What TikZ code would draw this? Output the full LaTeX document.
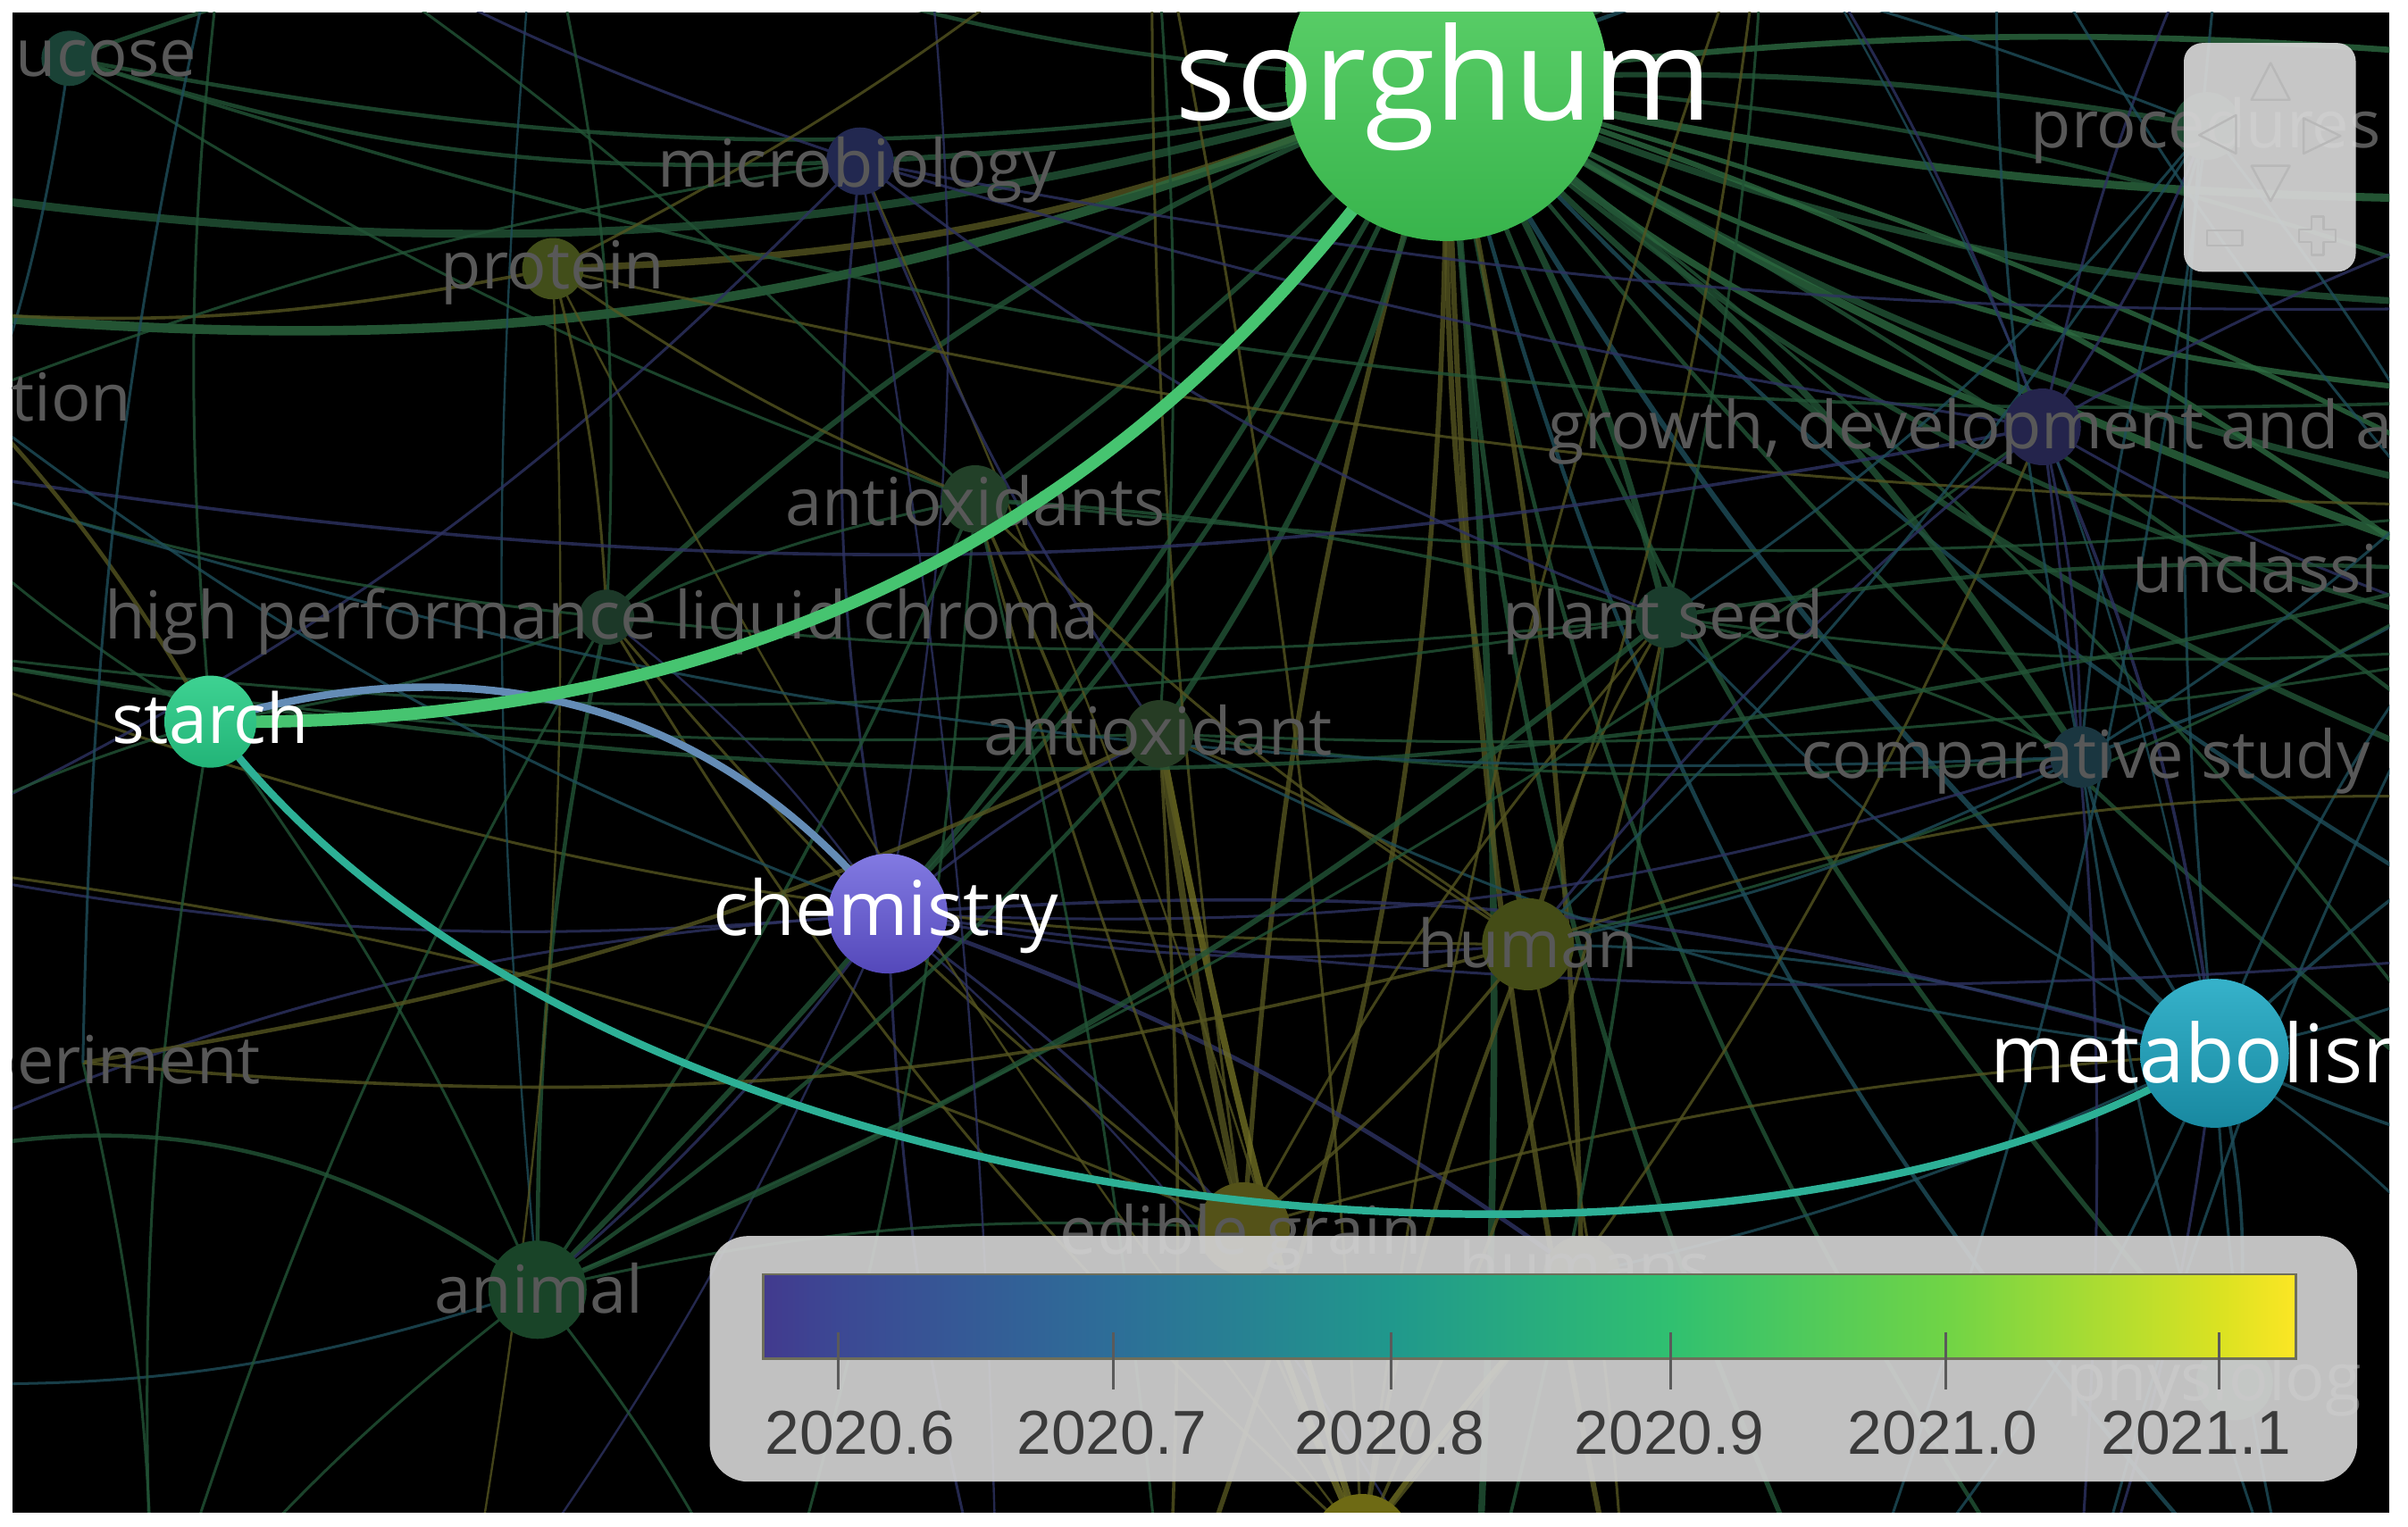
\documentclass[tikz,border=0pt]{standalone}
\usepackage{fontspec}
\setmainfont{Open Sans}
\newfontfamily\legfont{Liberation Sans}
\definecolor{cG1}{RGB}{34,84,54}
\definecolor{cG2}{RGB}{44,106,64}
\definecolor{cT}{RGB}{30,78,90}
\definecolor{cB}{RGB}{46,50,98}
\definecolor{cY}{RGB}{84,84,32}
\definecolor{cY2}{RGB}{112,110,36}
\definecolor{fGL}{RGB}{26,66,54}
\definecolor{fMI}{RGB}{34,40,80}
\definecolor{fPR}{RGB}{66,78,26}
\definecolor{fAS}{RGB}{34,64,40}
\definecolor{fHP}{RGB}{28,56,40}
\definecolor{fAT}{RGB}{38,60,36}
\definecolor{fPS}{RGB}{26,60,44}
\definecolor{fGR}{RGB}{36,36,76}
\definecolor{fCS}{RGB}{26,54,64}
\definecolor{fHU}{RGB}{68,76,22}
\definecolor{fAN}{RGB}{25,68,40}
\definecolor{fEG}{RGB}{84,82,24}
\definecolor{fHS}{RGB}{64,64,28}
\definecolor{fFO}{RGB}{110,106,20}
\definecolor{fPH}{RGB}{36,76,54}
\definecolor{fPC}{RGB}{32,72,50}
\definecolor{flab}{RGB}{88,88,88}
\definecolor{hSS}{RGB}{70,196,112}
\definecolor{hSC}{RGB}{100,140,182}
\definecolor{hSM}{RGB}{45,176,150}
\definecolor{navF}{RGB}{214,214,214}
\definecolor{navI}{RGB}{184,184,184}
\definecolor{legF}{RGB}{210,210,210}
\definecolor{legT}{RGB}{58,58,58}
\definecolor{tickC}{RGB}{90,90,90}
\definecolor{barB}{RGB}{110,110,90}
\definecolor{v0}{RGB}{66,58,142}
\definecolor{v1}{RGB}{60,72,148}
\definecolor{v2}{RGB}{45,110,152}
\definecolor{v3}{RGB}{32,152,140}
\definecolor{v4}{RGB}{48,192,112}
\definecolor{v5}{RGB}{112,212,70}
\definecolor{v6}{RGB}{218,226,34}
\definecolor{v7}{RGB}{252,230,36}
\begin{document}
\begin{tikzpicture}[x=0.02cm,y=-0.02cm,
  edge/.style={opacity=0.8},
  eG/.style={edge,draw=cG1},
  eH/.style={edge,draw=cG2},
  eT/.style={edge,draw=cT},
  eB/.style={edge,draw=cB},
  eY/.style={edge,draw=cY},
  eZ/.style={edge,draw=cY2},
  fnode/.style={circle,inner sep=0,draw=none},
  flbl/.style={text=flab,inner sep=0,font=\fontsize{24.5}{26}\selectfont},
  hlbl/.style={text=white,inner sep=0,anchor=base},
  hedge/.style={line cap=round},
  legtxt/.style={text=legT,inner sep=0,anchor=base,font=\legfont\fontsize{23}{25}\selectfont},
  navicon/.style={draw=navI,line width=0.8pt,line join=round}]
\useasboundingbox (0,0) rectangle (1568,994);
\fill[white] (0,0) rectangle (1568,994);
\fill[black] (8,8) rectangle (1556,985);
\begin{scope}
\clip (8,8) rectangle (1556,985);
% ---------- positions ----------
\foreach \n/\x/\y in {S/942/52,ST/137/470,CH/578/595,ME/1442/686,GL/45/38,MI/560/105,
  PR/360/175,AS/635/325,HP/395/402,AT/755/478,PS/1085/402,GR/1330/278,CS/1355/493,
  HU/995/615,AN/350/840,EG/810/800,HS/1030/830,FO/887/1005,PH/1455/900,PC/1437/82,
  UN/1620/372,EX/54/692,TI/-25/260,
  R1/1650/40,R2/1650/130,R3/1650/200,R4/1650/260,R5/1650/330,R6/1650/420,R7/1650/520,
  R8/1650/620,R9/1650/760,R10/1650/880,
  B1/100/1080,B2/300/1080,B3/500/1080,B4/650/1080,B5/760/1080,B6/960/1080,B7/1060/1080,
  B8/1200/1080,B9/1350/1080,B10/1500/1080,
  L1/-80/120,L2/-80/200,L3/-80/300,L4/-80/420,L5/-80/560,L6/-80/760,L7/-80/900,
  T1/150/-80,T2/350/-80,T3/600/-80,T4/750/-80,T5/1150/-80,T6/1300/-80,T7/1450/-80}
  {\coordinate (\n) at (\x,\y);}
% ---------- faint background links ----------
\foreach \ea/\eb/\ebd/\elw/\est in {
  S/R1/6/2.2pt/eH, S/R2/-6/3pt/eH, S/R3/-10/2.5pt/eG, S/R4/-12/2pt/eH, S/R5/-10/2.5pt/eG,
  S/R6/-14/1.8pt/eG, S/R7/-12/2.2pt/eG, S/R8/-8/1.5pt/eT, S/R9/8/1.2pt/eG, S/GR/-10/2.5pt/eH,
  S/CS/10/2.5pt/eG, S/ME/-8/2pt/eT, S/UN/-6/3pt/eH, S/PC/6/2pt/eG, S/PS/8/2.5pt/eG,
  S/HU/-6/2pt/eY, S/B6/4/2.5pt/eG, S/B7/-5/2pt/eY, S/B8/-10/1.8pt/eG, S/B9/-12/1.5pt/eG,
  S/B5/10/1.8pt/eY, S/EG/-6/1.8pt/eY, S/AT/10/2.2pt/eG, S/AS/5/1.8pt/eG, S/HP/-10/2pt/eG,
  S/PR/10/2.5pt/eY, S/MI/5/2pt/eG, S/L1/12/3pt/eG, S/L2/14/3.5pt/eH, S/GL/10/1.5pt/eG,
  S/CH/10/1.8pt/eG, S/AN/8/2pt/eG, S/T2/10/1.5pt/eG, S/T3/-5/1.5pt/eG, S/T6/5/1.5pt/eG,
  S/HS/5/1.8pt/eY, S/PH/-10/1.8pt/eG, S/T7/8/1.5pt/eT, S/B10/-14/1.5pt/eT,
  S/R3/8/1.5pt/eG, S/R5/6/1.8pt/eH, S/R7/4/1.5pt/eG, S/R6/10/2pt/eH, S/R9/-6/1.5pt/eG,
  ME/R7/5/1.2pt/eT, ME/R9/-5/1.2pt/eT, ME/R10/8/1pt/eT, ME/B10/-5/1pt/eT, ME/B9/6/1pt/eB,
  ME/B8/8/1pt/eT, ME/CS/10/1.2pt/eT, ME/HU/-8/1pt/eT, ME/CH/-10/1.2pt/eB, ME/PS/8/1pt/eT,
  ME/T7/6/1pt/eT, ME/GR/-8/1.2pt/eB, ME/AT/10/1pt/eT, ME/EG/-6/1pt/eY, ME/HS/6/1pt/eT,
  ME/PH/10/1.2pt/eT, ME/R8/-6/1pt/eT, ME/T5/-10/0.8pt/eT, ME/UN/8/1pt/eT,
  CH/L5/8/1pt/eB, CH/L6/-10/1pt/eB, CH/B2/6/0.8pt/eB, CH/B4/-6/1pt/eB, CH/B6/10/0.8pt/eB,
  CH/HU/-8/1pt/eB, CH/MI/8/1pt/eB, CH/AT/6/1pt/eB, CH/EG/5/1pt/eB, CH/T3/-8/0.8pt/eB,
  CH/R8/-6/1pt/eB, CH/AN/6/1pt/eB, CH/HP/-8/0.8pt/eB, CH/CS/-10/1pt/eB, CH/HS/8/1.6pt/eB,
  HU/EG/6/1.2pt/eY, HU/FO/-6/1.5pt/eY, HU/B7/5/1pt/eY, HU/T5/-6/1pt/eY, HU/PS/8/1pt/eY,
  HU/AT/-8/1pt/eY, HU/R7/10/1pt/eY, HU/AS/6/1pt/eY, HU/L4/10/1pt/eY,
  FO/AT/3/2.5pt/eZ, FO/EG/4/2.5pt/eZ, FO/T4/-4/1pt/eY, FO/PS/-6/1.2pt/eY, FO/AS/5/1pt/eY,
  FO/HS/4/2pt/eZ, FO/B3/6/1pt/eY, FO/B8/-6/1pt/eY, FO/T5/6/1pt/eY, FO/GR/-8/1pt/eY,
  FO/HP/8/1pt/eY, FO/PR/5/0.8pt/eY, FO/MI/-4/0.8pt/eY,
  EG/AT/2/2.5pt/eY, EG/HP/6/1pt/eY, EG/L5/-8/1pt/eY, EG/AS/-4/1.2pt/eY, EG/PS/6/1pt/eY,
  EG/T4/4/1pt/eY,
  AN/L6/-25/1.5pt/eG, AN/HP/6/1.5pt/eG, AN/AT/-6/1.5pt/eG, AN/B1/-6/1pt/eG, AN/B3/6/1pt/eG,
  AN/EG/8/1pt/eG, AN/L7/10/1pt/eT, AN/AS/-5/1.2pt/eG, AN/PS/-8/2pt/eG, AN/GR/-6/1pt/eG,
  AN/T2/5/0.8pt/eT,
  GL/MI/-10/1.5pt/eG, GL/T3/8/1.5pt/eG, GL/L4/10/1pt/eT, GL/AS/-6/1pt/eG, GL/R4/-10/1.2pt/eG,
  MI/T1/6/1pt/eB, MI/L5/10/1pt/eB, MI/AT/-6/1pt/eB, MI/B4/4/0.8pt/eB, MI/R3/-6/1pt/eB,
  MI/PS/-8/1pt/eB, MI/GR/-4/1pt/eB,
  PR/L2/8/1.2pt/eY, PR/T4/-6/1pt/eY, PR/B2/6/0.8pt/eY, PR/AS/-6/1pt/eY, PR/HP/6/1pt/eY,
  PR/R5/-6/1pt/eY,
  HP/L3/6/1pt/eG, HP/B1/-6/1pt/eG, HP/AS/6/1pt/eG, HP/T2/-8/1pt/eG, HP/PS/-6/1pt/eG,
  AS/B3/6/1pt/eG, AS/T1/-6/1pt/eG, AS/PS/6/1.2pt/eG, AS/R5/-6/1pt/eG, AS/B5/4/1pt/eG,
  AT/B5/3/1.2pt/eY, AT/T4/-4/1pt/eG, AT/L4/6/1pt/eG, AT/R6/-6/1pt/eG, AT/CS/-6/1pt/eG,
  PS/B6/4/1.2pt/eG, PS/T5/-5/1pt/eG, PS/R6/-6/1pt/eG, PS/L4/8/1pt/eG, PS/CS/6/1pt/eG,
  GR/R2/5/1pt/eB, GR/R6/-6/1pt/eB, GR/B9/6/1pt/eB, GR/T5/-6/1pt/eB, GR/T7/6/1pt/eB,
  GR/CS/6/1pt/eB, GR/HU/-6/1pt/eB, GR/L3/10/1.2pt/eB, GR/PC/-6/1pt/eB,
  PC/B8/6/1pt/eT, PC/CS/-6/1pt/eT, PC/HU/6/1pt/eT, PC/T4/-8/1pt/eT, PC/R6/6/1pt/eT,
  PC/PS/8/1pt/eT,
  UN/L4/12/1.5pt/eG, UN/CS/6/1.2pt/eT, UN/B9/-6/1pt/eT, UN/T6/6/1pt/eT, UN/HU/8/1pt/eG,
  UN/PS/-6/1.5pt/eG,
  CS/L3/10/1pt/eT, CS/B10/-6/1pt/eT, CS/T6/6/1pt/eT, CS/HU/8/1pt/eT, CS/R4/-6/1pt/eT,
  ST/L3/6/1pt/eG, ST/B1/-6/1pt/eG, ST/T1/6/1pt/eG, ST/HP/-6/1pt/eG, ST/AN/6/1pt/eG,
  ST/L5/-6/1pt/eG, ST/L2/-8/1.5pt/eY,
  EX/HU/-10/1.2pt/eY, EX/B1/6/1pt/eG, EX/AT/-8/1.5pt/eY, EX/T1/6/1pt/eT,
  TI/CH/-8/1pt/eT, TI/MI/6/1pt/eG}
  {\draw[\est,line width=\elw] (\ea) to[bend left=\ebd] (\eb);}
% ---------- faint nodes ----------
\foreach \n/\r in {GL/18,MI/22,PR/20,AS/22,HP/18,AT/22,PS/20,GR/25,CS/20,HU/30,AN/32,
  EG/30,HS/25,FO/32,PH/25,PC/22}
  {\node[fnode,fill=f\n,minimum size=\r*0.04cm] (n\n) at (\n) {};}
% ---------- faint labels ----------
\node[flbl,anchor=base west] (tGL) at (10,50) {ucose};
\node[flbl,anchor=base] (tMI) at (558,122) {microbiology};
\node[flbl,anchor=base] (tPR) at (360,188) {protein};
\node[flbl,anchor=base east] (tTI) at (86,274) {tion};
\node[flbl,anchor=base] (tAS) at (635,342) {antioxidants};
\node[flbl,anchor=base] (tHP) at (392,416) {high performance liquid chroma};
\node[flbl,anchor=base] (tAT) at (754,492) {antioxidant};
\node[flbl,anchor=base] (tPS) at (1083,416) {plant seed};
\node[flbl,anchor=base west] (tGR) at (1008,292) {growth, development and a};
\node[flbl,anchor=base west] (tPC) at (1322,96) {procedures};
\node[flbl,anchor=base west] (tUN) at (1388,386) {unclassi};
\node[flbl,anchor=base] (tCS) at (1358,507) {comparative study};
\node[flbl,anchor=base] (tHU) at (995,630) {human};
\node[flbl,anchor=base east] (tEX) at (170,706) {periment};
\node[flbl,anchor=base] (tAN) at (351,855) {animal};
\node[flbl,anchor=base] (tEG) at (808,817) {edible grain};
\node[flbl,anchor=base] (tHS) at (1032,840) {humans};
\node[flbl,anchor=base west] (tPH) at (1345,912) {physiolog};
% ---------- highlighted links ----------
\draw[hedge,draw=hSM,line width=2.8pt] (ST) .. controls (400,820) and (1150,870) .. (ME);
\draw[hedge,draw=hSC,line width=2.8pt] (ST) .. controls (300,420) and (460,450) .. (CH);
\draw[hedge,draw=hSS,line width=4.6pt] (ST) .. controls (500,475) and (760,330) .. (S);
% ---------- highlighted nodes ----------
\node[fnode,minimum size=4.2cm,top color={rgb,255:red,100;green,214;blue,112},bottom color={rgb,255:red,56;green,180;blue,76}] (nS) at (S) {};
\node[fnode,minimum size=1.2cm,top color={rgb,255:red,62;green,210;blue,146},bottom color={rgb,255:red,34;green,180;blue,120}] (nST) at (ST) {};
\node[fnode,minimum size=1.56cm,top color={rgb,255:red,130;green,122;blue,226},bottom color={rgb,255:red,84;green,72;blue,186}] (nCH) at (CH) {};
\node[fnode,minimum size=1.94cm,top color={rgb,255:red,54;green,178;blue,202},bottom color={rgb,255:red,24;green,136;blue,160}] (nME) at (ME) {};
\node[hlbl,font=\fontsize{47.5}{50}\selectfont] (tS) at (940,78) {sorghum};
\node[hlbl,font=\fontsize{25.5}{27}\selectfont] (tST) at (137,484) {starch};
\node[hlbl,font=\fontsize{28}{30}\selectfont] (tCH) at (577,609) {chemistry};
\node[hlbl,font=\fontsize{30}{32}\selectfont] (tME) at (1442,705) {metabolism};
% ---------- navigation pad ----------
\node[fnode,rectangle,rounded corners=0.24cm,fill=navF,fill opacity=0.93,minimum width=2.24cm,minimum height=2.98cm] (nav) at (1478,102.5) {};
\draw[navicon] (1466,65) -- (1478.5,41) -- (1491,65) -- cycle;
\draw[navicon] (1456,75) -- (1432,88) -- (1456,100) -- cycle;
\draw[navicon] (1500,77) -- (1524,88.5) -- (1500,100) -- cycle;
\draw[navicon] (1466,108) -- (1491,108) -- (1478.5,131) -- cycle;
\draw[navicon] (1437,150) rectangle (1460,160);
\draw[navicon] (1505,141) -- (1513,141) -- (1513,149.5) -- (1521,149.5) -- (1521,157.5) -- (1513,157.5) -- (1513,166) -- (1505,166) -- (1505,157.5) -- (1497,157.5) -- (1497,149.5) -- (1505,149.5) -- cycle;
% ---------- legend ----------
\node[fnode,rectangle,rounded corners=0.5cm,fill=legF,fill opacity=0.92,minimum width=21.46cm,minimum height=3.2cm] (leg) at (998.5,885) {};
\shade[left color=v0,right color=v1] (497,830) rectangle (546,885);
\shade[left color=v1,right color=v2] (546,830) rectangle (725,885);
\shade[left color=v2,right color=v3] (725,830) rectangle (906,885);
\shade[left color=v3,right color=v4] (906,830) rectangle (1088,885);
\shade[left color=v4,right color=v5] (1088,830) rectangle (1267,885);
\shade[left color=v5,right color=v6] (1267,830) rectangle (1445,885);
\shade[left color=v6,right color=v7] (1445,830) rectangle (1495,885);
\draw[barB,line width=0.9pt] (497,830) rectangle (1495,885);
\foreach \tx in {546,725,906,1088,1267,1445}
  {\draw[tickC,line width=0.9pt] (\tx,868) -- (\tx,905);}
\node[legtxt] (k1) at (560,947) {2020.6};
\node[legtxt] (k2) at (724,947) {2020.7};
\node[legtxt] (k3) at (905,947) {2020.8};
\node[legtxt] (k4) at (1087,947) {2020.9};
\node[legtxt] (k5) at (1265,947) {2021.0};
\node[legtxt] (k6) at (1430,947) {2021.1};
\end{scope}
\end{tikzpicture}
\end{document}
